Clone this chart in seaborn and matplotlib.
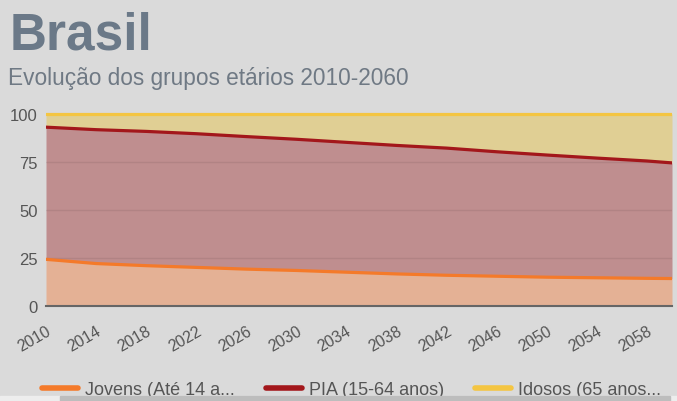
import numpy as np
import pandas as pd
import seaborn as sns
import matplotlib.pyplot as plt
from matplotlib.patches import Rectangle

# values (share of population, %)
anos = [2010, 2014, 2018, 2022, 2026, 2030, 2034, 2038, 2042, 2046, 2050, 2054, 2058, 2060]
jovens = [24.3, 22.1, 21.0, 20.1, 19.2, 18.5, 17.6, 16.7, 16.0, 15.5, 15.0, 14.7, 14.4, 14.3]
pia = [68.8, 69.7, 69.9, 69.6, 69.0, 68.3, 67.6, 66.9, 66.2, 64.8, 63.6, 62.3, 61.1, 60.2]
idosos = [100 - j - p for j, p in zip(jovens, pia)]

nomes = ['Jovens (Até 14 a...', 'PIA (15-64 anos)', 'Idosos (65 anos...']
linhas = ['#f47a2a', '#a3171b', '#f4c542']
fundos = ['#e4b195', '#bf8e8f', '#e0cf94']

df = pd.DataFrame({'ano': anos, 'jovens': jovens, 'pia': pia, 'idosos': idosos})
df['c1'] = df['jovens']
df['c2'] = df['c1'] + df['pia']
df['c3'] = df['c2'] + df['idosos']

sns.set_style('white')
plt.rcParams['font.family'] = ['Liberation Sans', 'DejaVu Sans']

bg = '#dadada'
fig = plt.figure(figsize=(6.77, 4.02), dpi=100, facecolor=bg)
ax = fig.add_axes([46 / 677, 1 - 307 / 402, 626 / 677, 194 / 402])
ax.set_facecolor(bg)

# filled layers
base = np.zeros(len(df))
for col, fc in zip(['c1', 'c2', 'c3'], fundos):
    ax.fill_between(df['ano'], base, df[col], color=fc, lw=0, zorder=1)
    base = df[col].values

# gridlines
for g in [25, 50, 75]:
    ax.axhline(g, color='#000000', alpha=0.07, lw=1, zorder=2)

# top edge lines
long = df.melt(id_vars='ano', value_vars=['c1', 'c2', 'c3'], var_name='grupo', value_name='valor')
long['grupo'] = long['grupo'].map(dict(zip(['c1', 'c2', 'c3'], nomes)))
sns.lineplot(data=long, x='ano', y='valor', hue='grupo', hue_order=nomes,
             palette=linhas, lw=2.3, ax=ax, zorder=3, legend=False)

ax.set_xlim(2010, 2060)
ax.set_ylim(0, 101)
ax.set_yticks([0, 25, 50, 75, 100])
ax.set_xticks(list(range(2010, 2060, 4)))
ax.tick_params(axis='both', colors='#555555', length=0)
ax.tick_params(axis='y', labelsize=12, pad=6)
ax.tick_params(axis='x', labelsize=11.5, pad=12)
plt.setp(ax.get_xticklabels(), rotation=30, ha='right', rotation_mode='anchor')
ax.set_xlabel('')
ax.set_ylabel('')
for s in ['top', 'right', 'left']:
    ax.spines[s].set_visible(False)
ax.spines['bottom'].set_color('#666666')
ax.spines['bottom'].set_linewidth(1.5)

# titles
fig.text(10 / 677, 1 - 50 / 402, 'Brasil', fontsize=37, fontweight='bold',
         color='#6b7988', ha='left', va='baseline')
fig.text(8 / 677, 1 - 85 / 402, 'Evolução dos grupos etários 2010-2060', fontsize=16.3,
         color='#6f7984', ha='left', va='baseline')

# legend
handles = [plt.Line2D([], [], color=c, lw=4) for c in linhas]
fig.legend(handles, nomes, loc='center left', bbox_to_anchor=(42 / 677, 1 - 391 / 402), ncol=3,
           frameon=False, fontsize=13, labelcolor='#555555', handlelength=2.0,
           handletextpad=0.4, columnspacing=1.7, borderpad=0, borderaxespad=0)

# scrollbar strip at the bottom
fig.patches.append(Rectangle((0, 0), 1, 5 / 402, transform=fig.transFigure,
                             color='#ededed', zorder=5))
fig.patches.append(Rectangle((60 / 677, 0), 610 / 677, 5 / 402, transform=fig.transFigure,
                             color='#bdbdbd', zorder=6))

fig.savefig('out.png', dpi=100, facecolor=bg)
